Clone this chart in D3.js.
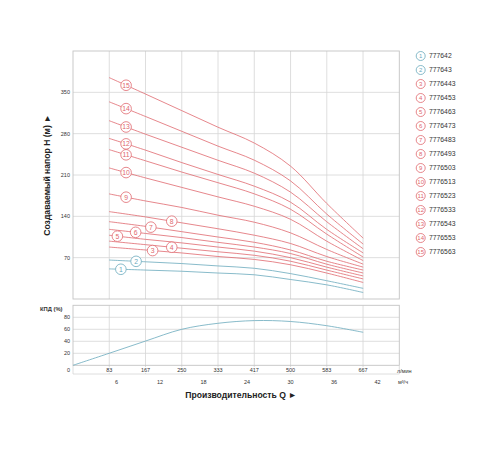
<!DOCTYPE html>
<html lang="ru">
<head>
    <meta charset="utf-8">
    <title>Pump curves</title>
    <style>
        body { margin: 0; background: #fff; }
        svg text { font-family: 'Liberation Sans', Arial, sans-serif; }
    </style>
    <script src="https://d3js.org/d3.v7.min.js" charset="utf-8"></script>
</head>
<body>
    <svg id="chart" width="500" height="450"></svg>

    <script type="text/javascript">
      // flow points where the curves were read (l/min)
      var qPoints = [83, 167, 250, 333, 417, 500, 583, 667];

      var models = ["777642", "777643", "7776443", "7776453", "7776463", "7776473", "7776483",
                    "7776493", "7776503", "7776513", "7776523", "7776533", "7776543", "7776553", "7776563"];

      // head H (m) for every model at qPoints
      var heads = [
        [51, 49, 47, 44, 41, 33, 24, 11],
        [66, 63, 60, 56, 52, 43, 31, 18],
        [88, 83, 78, 72, 67, 58, 44, 28],
        [98, 92, 86, 80, 74, 64, 49, 34],
        [108, 101, 95, 88, 81, 70, 54, 39],
        [118, 111, 104, 96, 88, 77, 59, 44],
        [131, 123, 114, 105, 96, 83, 64, 49],
        [148, 139, 129, 119, 108, 94, 72, 54],
        [178, 166, 155, 142, 130, 112, 84, 59],
        [222, 205, 189, 173, 157, 135, 98, 65],
        [253, 234, 215, 197, 178, 152, 110, 71],
        [272, 252, 231, 211, 191, 164, 118, 78],
        [302, 279, 257, 235, 213, 181, 131, 85],
        [334, 309, 284, 259, 235, 200, 144, 93],
        [375, 347, 319, 291, 264, 225, 162, 103]
      ];

      // where the number badge sits on each curve (l/min)
      var labelQ = [110, 145, 183, 227, 102, 144, 179, 227, 122, 122, 122, 122, 122, 122, 122];

      // efficiency curve
      var effQ = [0, 83, 167, 250, 333, 417, 500, 583, 667];
      var effVal = [0, 20, 40.5, 60, 70, 74.5, 73, 66, 55];

      var headTicks = [70, 140, 210, 280, 350];
      var effTicks = [20, 40, 60, 80];
      var lpmTicks = ["83", "167", "250", "333", "417", "500", "583", "667"];
      var m3hTicks = [6, 12, 18, 24, 30, 36, 42];

      var red = "#e0686e", blue = "#6aaabd", grid = "#d6d6d6", border = "#c4c4c4", ink = "#333";

      var svg = d3.select("#chart");

      var x = d3.scaleLinear().domain([0, 750]).range([73, 399.3]);
      var xm = d3.scaleLinear().domain([0, 45]).range([73, 399.3]);
      var y = d3.scaleLinear().domain([0, 420]).range([299, 51]);
      var ye = d3.scaleLinear().domain([0, 100]).range([365.3, 305.3]);

      var gridQ = d3.range(1, 9).map(function(i) { return i * 250 / 3; });

      // ---- main panel grid
      var g = svg.append("g");
      g.selectAll(".vg").data(gridQ).join("line")
        .attr("x1", d => x(d)).attr("x2", d => x(d))
        .attr("y1", y(420)).attr("y2", y(0))
        .attr("stroke", grid).attr("stroke-width", 0.8);
      g.selectAll(".hg").data(headTicks).join("line")
        .attr("x1", x(0)).attr("x2", x(750))
        .attr("y1", d => y(d)).attr("y2", d => y(d))
        .attr("stroke", grid).attr("stroke-width", 0.8);
      g.append("rect")
        .attr("x", x(0)).attr("y", y(420))
        .attr("width", x(750) - x(0)).attr("height", y(0) - y(420))
        .attr("fill", "none").attr("stroke", border).attr("stroke-width", 0.9);

      g.selectAll(".yl").data(headTicks).join("text")
        .attr("x", 70).attr("y", d => y(d) + 2)
        .attr("text-anchor", "end").attr("font-size", 5.5).attr("fill", ink)
        .text(d => d);

      // ---- head curves
      var line = d3.line()
        .x(d => x(d[0])).y(d => y(d[1]))
        .curve(d3.curveCatmullRom.alpha(0.5));

      heads.forEach(function(h, i) {
        var col = i < 2 ? blue : red;
        g.append("path")
          .attr("d", line(qPoints.map((q, k) => [q, h[k]])))
          .attr("fill", "none").attr("stroke", col).attr("stroke-width", 0.8);
      });

      heads.forEach(function(h, i) {
        var col = i < 2 ? blue : red;
        var at = d3.scaleLinear().domain(qPoints).range(h);
        var cx = x(labelQ[i]), cy = y(at(labelQ[i]));
        g.append("circle")
          .attr("cx", cx).attr("cy", cy).attr("r", 5.3)
          .attr("fill", "#fff").attr("stroke", col).attr("stroke-width", 0.8);
        g.append("text")
          .attr("x", cx).attr("y", cy + 2.4)
          .attr("text-anchor", "middle").attr("font-size", 6.8).attr("fill", col)
          .text(i + 1);
      });

      svg.append("text")
        .attr("transform", "translate(50,175) rotate(-90)")
        .attr("text-anchor", "middle").attr("font-size", 8.6).attr("font-weight", "bold").attr("fill", "#222")
        .text("Создаваемый напор H (м) ►");

      // ---- legend
      var leg = svg.append("g");
      models.forEach(function(m, i) {
        var col = i < 2 ? blue : red;
        var cy = 56 + i * 14;
        leg.append("circle")
          .attr("cx", 420.7).attr("cy", cy).attr("r", 4.5)
          .attr("fill", "#fff").attr("stroke", col).attr("stroke-width", 0.8);
        leg.append("text")
          .attr("x", 420.7).attr("y", cy + 2.2)
          .attr("text-anchor", "middle").attr("font-size", 6).attr("fill", col)
          .text(i + 1);
        leg.append("text")
          .attr("x", 429).attr("y", cy + 2.4)
          .attr("font-size", 6.8).attr("fill", ink)
          .text(m);
      });

      // ---- efficiency panel
      var e = svg.append("g");
      e.selectAll(".vg").data(gridQ).join("line")
        .attr("x1", d => x(d)).attr("x2", d => x(d))
        .attr("y1", ye(100)).attr("y2", 374)
        .attr("stroke", grid).attr("stroke-width", 0.8);
      e.selectAll(".hg").data(effTicks).join("line")
        .attr("x1", x(0)).attr("x2", x(750))
        .attr("y1", d => ye(d)).attr("y2", d => ye(d))
        .attr("stroke", grid).attr("stroke-width", 0.8);
      e.append("rect")
        .attr("x", x(0)).attr("y", ye(100))
        .attr("width", x(750) - x(0)).attr("height", ye(0) - ye(100))
        .attr("fill", "none").attr("stroke", border).attr("stroke-width", 0.9);
      e.append("line")
        .attr("x1", x(0)).attr("x2", x(750)).attr("y1", 374).attr("y2", 374)
        .attr("stroke", grid).attr("stroke-width", 0.8);
      e.append("line")
        .attr("x1", x(0)).attr("x2", x(0)).attr("y1", ye(0)).attr("y2", 374)
        .attr("stroke", grid).attr("stroke-width", 0.8);
      e.append("line")
        .attr("x1", x(750)).attr("x2", x(750)).attr("y1", ye(0)).attr("y2", 374)
        .attr("stroke", grid).attr("stroke-width", 0.8);

      e.selectAll(".el").data(effTicks).join("text")
        .attr("x", 70).attr("y", d => ye(d) + 2)
        .attr("text-anchor", "end").attr("font-size", 5.5).attr("fill", ink)
        .text(d => d);
      e.append("text")
        .attr("x", 40).attr("y", 311)
        .attr("font-size", 5.8).attr("font-weight", "bold").attr("fill", ink)
        .text("КПД (%)");

      e.append("path")
        .attr("d", d3.line().x(d => x(d[0])).y(d => ye(d[1])).curve(d3.curveCatmullRom.alpha(0.5))(effQ.map((q, k) => [q, effVal[k]])))
        .attr("fill", "none").attr("stroke", blue).attr("stroke-width", 0.8);

      // ---- x axis labels
      e.append("text")
        .attr("x", 70).attr("y", 372)
        .attr("text-anchor", "end").attr("font-size", 5.5).attr("fill", ink)
        .text("0");
      e.selectAll(".xl").data(lpmTicks).join("text")
        .attr("x", (d, i) => x(gridQ[i])).attr("y", 372)
        .attr("text-anchor", "middle").attr("font-size", 5.5).attr("fill", ink)
        .attr("stroke", "#fff").attr("stroke-width", 2).attr("paint-order", "stroke")
        .text(d => d);
      e.selectAll(".ml").data(m3hTicks).join("text")
        .attr("x", d => xm(d)).attr("y", 384)
        .attr("text-anchor", "middle").attr("font-size", 5.5).attr("fill", ink)
        .text(d => d);
      e.append("text")
        .attr("x", 397).attr("y", 373)
        .attr("font-size", 5.5).attr("fill", ink)
        .text("л/мин");
      e.append("text")
        .attr("x", 398).attr("y", 384)
        .attr("font-size", 5.5).attr("fill", ink)
        .text("м³/ч");

      svg.append("text")
        .attr("x", 241).attr("y", 398)
        .attr("text-anchor", "middle").attr("font-size", 8.6).attr("font-weight", "bold").attr("fill", "#222")
        .text("Производительность Q ►");
    </script>
</body>
</html>
